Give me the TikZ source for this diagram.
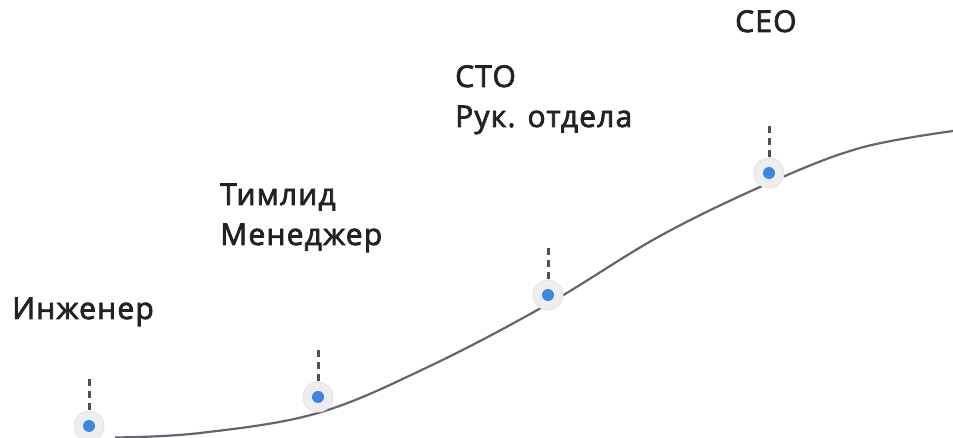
\documentclass[tikz,border=0pt]{standalone}
\usepackage{fontspec}
\setmainfont{Open Sans}[FakeBold=2.5,LetterSpace=4]
\definecolor{txt}{HTML}{222222}
\definecolor{curve}{HTML}{66646E}
\definecolor{halo}{HTML}{EEEEF0}
\definecolor{haloedge}{HTML}{E2E2E6}
\definecolor{dotblue}{HTML}{3A86E0}
\definecolor{dashc}{HTML}{4E4E56}
\begin{document}
\begin{tikzpicture}[x=1pt,y=-1pt,
  lbl/.style={anchor=base west,inner sep=0pt,text=txt,font=\fontsize{30}{40}\selectfont,align=left},
  halostyle/.style={circle,fill=halo,draw=haloedge,line width=0.8pt,minimum size=30pt,inner sep=0pt},
  bluedot/.style={circle,fill=dotblue,minimum size=12pt,inner sep=0pt},
  tick/.style={draw=dashc,line width=3pt,dash pattern=on 7pt off 5pt}]
\useasboundingbox (0,0) rectangle (953,438);
\draw[curve,line width=2.2pt] plot[smooth,tension=0.6] coordinates {(115,437.5) (200,433) (318,413) (430,366) (548,304) (660,236) (769,183) (860,148) (953,131)};
\foreach \n/\x/\y in {a/89/426,b/318/397,c/548/295,d/769/173}{
  \node[halostyle] (h\n) at (\x,\y) {};
  \node[bluedot] (d\n) at (\x,\y) {};
  \coordinate (t\n) at (\x,\y-48);
  \draw[tick] (h\n.north) ++(0,-1) -- (t\n);
}
\node[lbl] (l1) at (12,319) {Инженер};
\node[lbl] (l2) at (220,245) {Тимлид\\Менеджер};
\node[lbl] (l3) at (455,127) {CTO\\Рук. отдела};
\node[lbl] (l4) at (735,32) {CEO};
\end{tikzpicture}
\end{document}
